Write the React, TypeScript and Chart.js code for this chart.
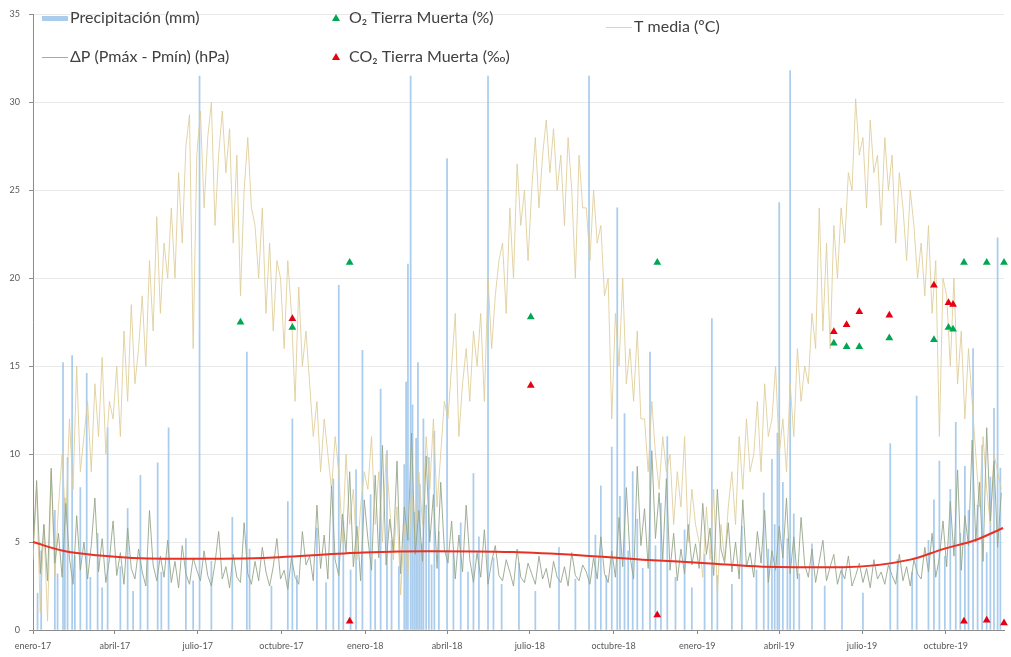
import { useEffect, useRef } from "react";
import { Chart, registerables } from "chart.js";

Chart.register(...registerables);

// ---------- axis ticks (days since 1 Jan 2017) ----------
const monthTickDays = [0, 90, 181, 273, 365, 455, 546, 638, 730, 820, 911, 1003];
const monthTickLabels = [
  "enero-17", "abril-17", "julio-17", "octubre-17",
  "enero-18", "abril-18", "julio-18", "octubre-18",
  "enero-19", "abril-19", "julio-19", "octubre-19",
];
const X_MAX_DAY = 1067;

// ---------- T media (ºC), one reading every 4 days ----------
const SAMPLE_STEP_DAYS = 4;
const tMedia2017 = [
  4, 8, 1, 6, 0.5, 9, 3, 7,
  10, 6, 12, 8, 15, 9, 11,
  13, 9, 14, 11, 15.5, 10, 13, 12,
  15, 11, 17, 13, 18.5, 14, 16,
  19, 15, 21, 17, 23.5, 18, 22, 20,
  24, 20, 26, 22, 27.5, 29.3, 16, 27,
  29.5, 24, 28, 30, 23, 27, 29.5,
  26, 28.5, 22, 27, 19, 25, 28, 24,
  23, 20, 24, 18, 22, 17, 21,
  20, 16, 21, 18, 13, 19.5, 15, 17,
  14, 11, 13, 9, 12, 10, 8, 11,
  9, 5, 10, 6, 8, 4, 7, 9,
];
const tMedia2018 = [
  8, 11, 6, 9, 5, 10, 7,
  4, 7, 2, 6, 3, 8, 5,
  9, 6, 11, 8, 12, 7, 10, 13,
  12, 15, 18, 11, 14, 16, 13, 17,
  15, 18, 13, 20, 16, 19, 21,
  22, 18, 24, 20, 26.5, 23, 25, 21,
  25, 28, 24, 27, 29, 26, 28.5, 25,
  27, 23, 28, 25, 20, 27, 24,
  24, 21, 25, 22, 23, 19, 20, 12,
  18, 15, 20, 14, 16, 13, 17, 12,
  12, 9, 13, 10, 8, 11, 9,
  10, 6, 9, 7, 11, 5, 8, 6,
];
const tMedia2019 = [
  5, 3, 7, 4, 8, 2, 6, 4,
  7, 9, 6, 11, 8, 12, 9,
  10, 13, 9, 14, 11, 12, 15, 10,
  12, 9, 14, 11, 16, 13, 15,
  14, 18, 16, 24, 17, 22, 16, 23,
  20, 24, 22, 26, 25, 30.2, 27,
  28, 24, 29, 26, 27, 23, 28, 25,
  27, 22, 26, 24, 21, 25, 23, 20,
  22, 19, 23, 18, 21, 11, 20,
  19, 15, 20, 14, 17, 12, 16, 13,
  10, 7, 11, 8, 6, 10, 9,
  8,
];

// ---------- ΔP (Pmáx - Pmín) (hPa), one reading every 4 days ----------
const deltaP2017 = [
  4.5, 8.5, 3.2, 6.0, 2.8, 9.2, 3.8, 5.5,
  3.0, 7.2, 4.1, 2.6, 6.5, 3.4, 5.0,
  2.9, 4.8, 7.5, 3.3, 5.2, 2.7, 4.0, 6.2,
  3.1, 4.4, 2.6, 5.8, 3.5, 2.9, 4.6,
  3.3, 2.5, 6.8, 3.7, 2.8, 4.2, 3.0, 5.1,
  2.7, 3.9, 2.4, 4.8, 3.2, 2.6, 4.1, 3.4,
  2.8, 4.5, 3.1, 2.5, 3.8, 5.6, 2.9,
  3.6, 2.4, 4.3, 3.0, 2.7, 6.1, 3.2, 2.6,
  3.9, 2.8, 4.7, 3.3, 2.5, 3.6, 5.2,
  2.9, 3.4, 2.3, 4.1, 3.0, 2.6, 5.6, 3.7,
  4.2, 2.8, 7.1, 3.5, 5.4, 2.9, 8.2, 4.0,
  3.1, 6.6, 4.4, 9.0, 3.6, 5.9, 2.8, 7.4,
];
const deltaP2018 = [
  5.2, 3.4, 8.8, 4.1, 10.5, 3.7, 6.3,
  4.5, 9.6, 3.2, 7.0, 5.1, 11.2, 4.3,
  6.8, 3.9, 9.9, 5.0, 7.7, 3.5, 8.4, 4.6,
  3.8, 6.2, 2.9, 5.4, 3.3, 7.1, 4.0, 2.7,
  4.4, 3.0, 5.7, 2.6, 3.9, 4.8, 3.1,
  2.8, 4.0, 3.3, 2.5, 4.6, 3.0, 2.7, 3.8,
  3.2, 2.6, 4.2, 2.9, 3.5, 2.4, 3.9, 3.0,
  2.7, 3.6, 2.5, 4.4, 3.1, 2.8, 3.7,
  3.3, 2.6, 4.1, 2.9, 5.3, 3.2, 2.7, 4.5,
  3.0, 6.4, 3.6, 8.1, 4.2, 2.9, 9.3, 4.8,
  6.9, 3.5, 10.2, 5.2, 7.8, 4.0, 8.6,
  3.4, 5.5, 2.8, 4.6, 3.2, 6.0, 3.7, 4.9,
];
const deltaP2019 = [
  3.5, 7.2, 4.3, 5.8, 3.1, 8.0, 4.6, 3.8,
  6.1, 3.3, 5.0, 2.9, 7.4, 3.6, 4.4,
  3.0, 5.6, 3.8, 6.8, 2.7, 4.5, 3.4, 5.9,
  4.1, 7.5, 3.2, 5.3, 2.9, 6.4, 3.7,
  3.0, 4.6, 2.7, 3.9, 5.1, 2.8, 3.6, 4.3,
  2.6, 3.4, 2.9, 4.2, 2.5, 3.1, 3.8,
  2.7, 3.5, 2.4, 4.0, 2.9, 3.3, 2.6, 3.7,
  3.1, 2.6, 4.3, 2.8, 3.6, 2.5, 4.0, 3.2,
  2.9, 4.7, 3.3, 5.5, 3.0, 4.1, 6.2,
  3.6, 7.3, 4.2, 9.1, 3.4, 6.5, 4.8, 10.8,
  5.0, 8.4, 3.9, 11.5, 6.2, 9.6, 4.7,
  7.8,
];

// ---------- Precipitación (mm): [day, mm] for rainy days ----------
const precip2017: [number, number][] = [
  [5, 2.1], [9, 4.5], [24, 6.8], [27, 3.2], [33, 15.2], [35, 7.5], [38, 9.8], [43, 15.6],
  [46, 4.2], [52, 8.1], [59, 14.6], [63, 3.0], [71, 5.5], [76, 2.4], [82, 11.5], [96, 3.6],
  [104, 6.9], [110, 2.2], [118, 8.8], [126, 4.1], [137, 9.5], [141, 3.3], [149, 11.5],
  [168, 5.2], [176, 2.8], [183, 31.5], [196, 3.9], [219, 6.4], [235, 15.8], [238, 4.6],
  [262, 2.5], [280, 7.3], [285, 12.0], [290, 3.1], [312, 5.8], [322, 2.7], [330, 8.6],
  [336, 19.6], [341, 6.2], [349, 3.4], [355, 9.1], [362, 15.9],
];
const precip2018: [number, number][] = [
  [371, 7.7], [376, 4.0], [382, 13.7], [389, 10.2], [394, 5.1], [402, 3.6], [408, 9.4],
  [410, 14.1], [412, 20.8], [415, 31.5], [417, 12.8], [419, 6.7], [421, 10.9], [423, 15.2],
  [425, 8.3], [427, 4.9], [429, 12.0], [432, 7.1], [435, 9.8], [438, 3.7], [441, 11.3],
  [446, 5.6], [455, 26.8], [462, 4.4], [470, 6.1], [478, 3.3], [484, 8.9], [490, 5.3],
  [500, 31.5], [506, 4.1], [515, 2.6], [534, 3.8], [552, 2.2], [578, 4.7], [596, 2.9],
  [611, 31.5], [618, 5.4], [624, 8.2], [630, 3.1], [636, 10.4], [642, 24.0], [645, 7.6],
  [650, 12.3], [654, 4.5], [659, 9.0], [664, 6.3], [670, 3.5], [678, 15.8], [684, 4.8],
  [690, 7.2], [697, 11.0], [706, 3.0], [716, 5.7], [724, 2.4],
];
const precip2019: [number, number][] = [
  [738, 4.3], [746, 17.7], [752, 3.1], [768, 2.6], [779, 5.9], [795, 3.4], [803, 7.8],
  [808, 4.6], [812, 9.7], [815, 6.0], [818, 11.2], [820, 24.3], [824, 8.4], [829, 5.2],
  [832, 31.8], [836, 6.6], [842, 3.2], [856, 4.9], [870, 2.5], [889, 3.6], [912, 2.1],
  [942, 10.6], [950, 4.0], [966, 3.3], [971, 13.3], [984, 5.1], [990, 7.4], [996, 9.6],
  [1002, 4.2], [1008, 8.0], [1014, 11.8], [1019, 5.5], [1024, 9.3], [1028, 6.8],
  [1033, 16.0], [1038, 7.1], [1043, 10.5], [1048, 4.4], [1052, 8.7], [1056, 12.6],
  [1060, 22.3], [1063, 9.2],
];

// ---------- smooth red trend ----------
const trendDays = [0, 33, 70, 143, 253, 363, 436, 527, 600, 670, 740, 802, 890, 964, 1000, 1035, 1066];
const trendValues = [5.0, 4.5, 4.25, 4.05, 4.1, 4.4, 4.48, 4.43, 4.25, 4.0, 3.8, 3.6, 3.57, 4.0, 4.6, 5.1, 5.8];

// ---------- soil gas samples ----------
const o2Days = [228, 285, 348, 547, 686, 880, 894, 908, 941, 990, 1006, 1011, 1023, 1048, 1067];
const o2Values = [17.5, 17.2, 20.9, 17.8, 20.9, 16.3, 16.1, 16.1, 16.6, 16.5, 17.2, 17.1, 20.9, 20.9, 20.9];
const co2Days = [285, 348, 547, 686, 880, 894, 908, 941, 990, 1006, 1011, 1023, 1048, 1067];
const co2Values = [17.7, 0.5, 13.9, 0.85, 16.95, 17.35, 18.1, 17.9, 19.6, 18.6, 18.5, 0.5, 0.55, 0.4];

const COLORS = {
  precip: "rgba(150,192,232,0.8)",
  temp: "rgba(222,204,150,0.85)",
  dp: "rgba(150,166,140,0.9)",
  trend: "rgb(232,48,36)",
  o2: "rgb(0,166,81)",
  co2: "rgb(230,0,20)",
  axis: "#8c8c8c",
  grid: "#e9e9e9",
  tickText: "#595959",
  legendText: "#404040",
};

const LABELS = {
  precip: "Precipitación (mm)",
  dp: "ΔP (Pmáx - Pmín) (hPa)",
  o2: "O₂ Tierra Muerta (%)",
  co2: "CO₂ Tierra Muerta (‰)",
  temp: "T media (ºC)",
};

function series(values: number[]) {
  return values.map((y, i) => ({ x: i * SAMPLE_STEP_DAYS, y }));
}
function pairs(days: number[], values: number[]) {
  return days.map((x, i) => ({ x, y: values[i] }));
}

const legendPlugin = {
  id: "cornerLegend",
  afterDraw(chart: any) {
    const { ctx } = chart;
    const items = [
      { kind: "rect", color: COLORS.precip, label: LABELS.precip, x: 42, y: 18 },
      { kind: "line", color: COLORS.dp, label: LABELS.dp, x: 42, y: 57 },
      { kind: "tri", color: COLORS.o2, label: LABELS.o2, x: 330, y: 18 },
      { kind: "tri", color: COLORS.co2, label: LABELS.co2, x: 330, y: 57 },
      { kind: "line", color: COLORS.temp, label: LABELS.temp, x: 606, y: 27 },
    ];
    ctx.save();
    ctx.font = "16px Lato, 'Open Sans', sans-serif";
    ctx.textBaseline = "middle";
    ctx.textAlign = "left";
    for (const it of items) {
      if (it.kind === "rect") {
        ctx.fillStyle = it.color;
        ctx.fillRect(it.x, it.y - 2, 26, 5);
        ctx.fillStyle = COLORS.legendText;
        ctx.fillText(it.label, it.x + 28, it.y);
      } else if (it.kind === "line") {
        ctx.strokeStyle = it.color;
        ctx.lineWidth = 1;
        ctx.beginPath();
        ctx.moveTo(it.x, it.y + 0.5);
        ctx.lineTo(it.x + 26, it.y + 0.5);
        ctx.stroke();
        ctx.fillStyle = COLORS.legendText;
        ctx.fillText(it.label, it.x + 28, it.y);
      } else {
        const cx = it.x + 6;
        ctx.fillStyle = it.color;
        ctx.beginPath();
        ctx.moveTo(cx, it.y - 4);
        ctx.lineTo(cx + 4, it.y + 3);
        ctx.lineTo(cx - 4, it.y + 3);
        ctx.closePath();
        ctx.fill();
        ctx.fillStyle = COLORS.legendText;
        ctx.fillText(it.label, it.x + 19, it.y);
      }
    }
    ctx.restore();
  },
};

export default function App() {
  const canvasRef = useRef<HTMLCanvasElement | null>(null);

  useEffect(() => {
    document.body.style.margin = "0";
    const canvas = canvasRef.current;
    if (!canvas) return;

    const precip = [...precip2017, ...precip2018, ...precip2019].map(([x, y]) => ({ x, y }));
    const temp = series([...tMedia2017, ...tMedia2018, ...tMedia2019]);
    const dp = series([...deltaP2017, ...deltaP2018, ...deltaP2019]);
    const trend = pairs(trendDays, trendValues);
    const o2 = pairs(o2Days, o2Values);
    const co2 = pairs(co2Days, co2Values);

    const chart = new Chart(canvas, {
      type: "bar",
      data: {
        datasets: [
          {
            type: "scatter",
            label: LABELS.o2,
            data: o2,
            pointStyle: "triangle",
            pointRadius: 4.5,
            backgroundColor: COLORS.o2,
            borderColor: COLORS.o2,
            borderWidth: 0,
            clip: false,
            order: 0,
          } as any,
          {
            type: "scatter",
            label: LABELS.co2,
            data: co2,
            pointStyle: "triangle",
            pointRadius: 4.5,
            backgroundColor: COLORS.co2,
            borderColor: COLORS.co2,
            borderWidth: 0,
            clip: false,
            order: 0,
          } as any,
          {
            type: "line",
            label: "tendencia",
            data: trend,
            borderColor: COLORS.trend,
            borderWidth: 2,
            pointRadius: 0,
            cubicInterpolationMode: "monotone",
            clip: false,
            order: 1,
          } as any,
          {
            type: "line",
            label: LABELS.dp,
            data: dp,
            borderColor: COLORS.dp,
            borderWidth: 1,
            pointRadius: 0,
            tension: 0,
            order: 2,
          } as any,
          {
            type: "line",
            label: LABELS.temp,
            data: temp,
            borderColor: COLORS.temp,
            borderWidth: 1,
            pointRadius: 0,
            tension: 0,
            order: 3,
          } as any,
          {
            type: "bar",
            label: LABELS.precip,
            data: precip,
            backgroundColor: COLORS.precip,
            barThickness: 1.1,
            order: 4,
          } as any,
        ],
      },
      options: {
        animation: false,
        responsive: false,
        events: [],
        layout: { padding: { top: 12, right: 7, left: 0, bottom: 0 } },
        plugins: { legend: { display: false }, tooltip: { enabled: false } },
        scales: {
          x: {
            type: "linear",
            min: 0,
            max: X_MAX_DAY,
            offset: false,
            afterBuildTicks: (scale: any) => {
              scale.ticks = monthTickDays.map((v) => ({ value: v }));
            },
            afterFit: (scale: any) => {
              scale.height = 27;
            },
            ticks: {
              autoSkip: false,
              maxRotation: 0,
              padding: 7,
              color: COLORS.tickText,
              font: { family: "Lato, 'Open Sans', sans-serif", size: 9 },
              callback: (value: any) => {
                const i = monthTickDays.indexOf(Number(value));
                return i >= 0 ? monthTickLabels[i] : "";
              },
            },
            grid: {
              drawOnChartArea: false,
              drawTicks: true,
              tickLength: 4,
              tickColor: COLORS.axis,
              offset: false,
            },
            border: { display: true, color: COLORS.axis, width: 1 },
          },
          y: {
            type: "linear",
            min: 0,
            max: 35,
            afterFit: (scale: any) => {
              scale.width = 33;
            },
            ticks: {
              stepSize: 5,
              padding: 9,
              color: COLORS.tickText,
              font: { family: "Lato, 'Open Sans', sans-serif", size: 9 },
            },
            grid: {
              color: COLORS.grid,
              drawTicks: true,
              tickLength: 4,
              tickColor: COLORS.axis,
            },
            border: { display: true, color: COLORS.axis, width: 1 },
          },
        },
      },
      plugins: [legendPlugin],
    });

    return () => chart.destroy();
  }, []);

  return (
    <div style={{ width: 1011, height: 657, background: "#fff" }}>
      <canvas ref={canvasRef} width={1011} height={657} style={{ display: "block" }} />
    </div>
  );
}
